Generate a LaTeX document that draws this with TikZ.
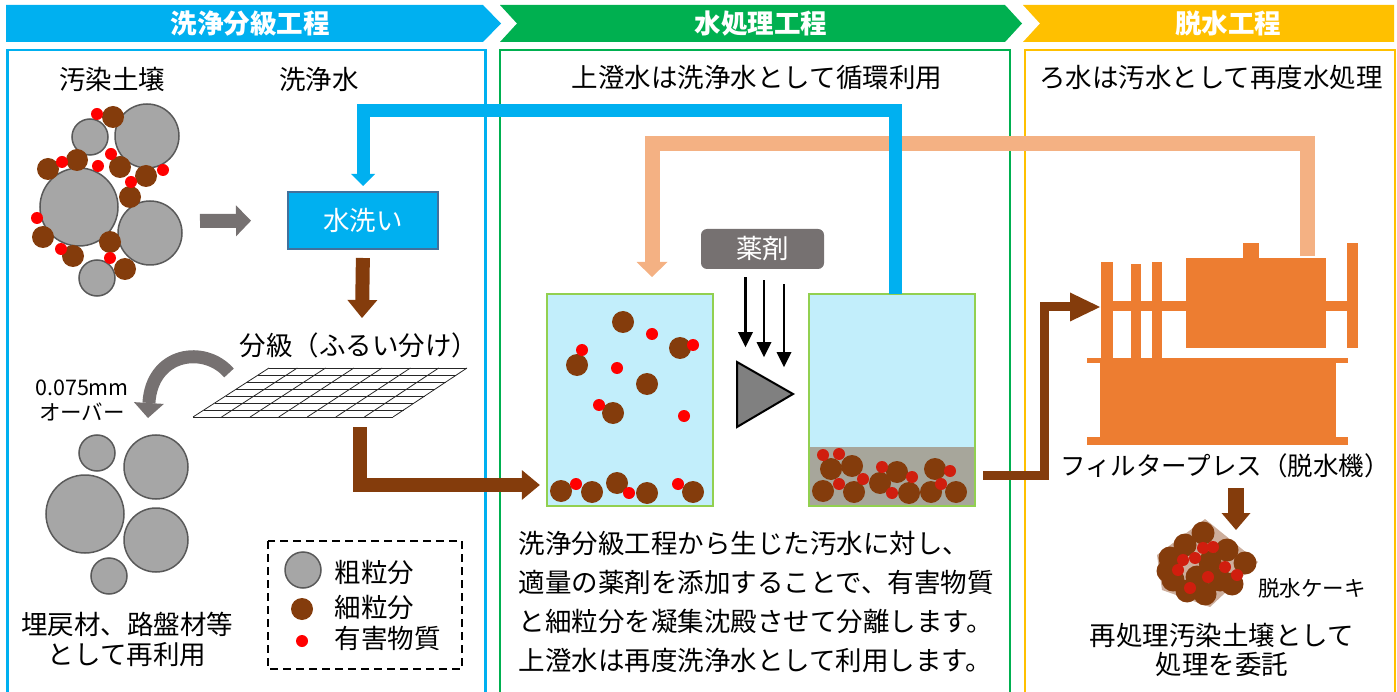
\documentclass[tikz,border=0pt]{standalone}
\usepackage{fontspec}
\setmainfont{Noto Sans CJK JP}
\usetikzlibrary{arrows.meta,calc,positioning}

\definecolor{stepblue}{HTML}{00B0F0}
\definecolor{stepgreen}{HTML}{00B050}
\definecolor{stepyellow}{HTML}{FFC000}
\definecolor{soilbrown}{HTML}{843C0C}
\definecolor{rockgray}{HTML}{A6A6A6}
\definecolor{rockedge}{HTML}{595959}
\definecolor{arrowgray}{HTML}{767171}
\definecolor{returnpink}{HTML}{F4B183}
\definecolor{pressorange}{HTML}{ED7D31}
\definecolor{water}{HTML}{C2EEFB}
\definecolor{tankgreen}{HTML}{92D050}
\definecolor{sludge}{HTML}{A7A69B}
\definecolor{washedge}{HTML}{41719C}
\definecolor{cakebg}{HTML}{CDAE9C}
\definecolor{darkred}{HTML}{D01E0E}

\begin{document}
\begin{tikzpicture}[x=1pt,y=-1pt,
          big/.style={font=\fontsize{26.5}{31}\selectfont},
          small/.style={font=\fontsize{21.5}{24}\selectfont},
          headtext/.style={font=\fontsize{26.5}{31}\selectfont\bfseries,text=white},
          panel/.style={line width=2.5pt},
          coarse/.style={fill=rockgray,draw=rockedge,line width=1.5pt},
          fine/.style={fill=soilbrown},
          toxic/.style={fill=red},
          tank/.style={fill=water,minimum width=166pt,minimum height=212pt,inner sep=0pt},
          tankedge/.style={draw=tankgreen,line width=2pt},
          press/.style={fill=pressorange},
          gridline/.style={draw=black!85,line width=0.8pt},
          bluepipe/.style={draw=stepblue,line width=13pt,-{Triangle[width=24pt,length=12pt,line width=0pt]}},
          pinkpipe/.style={draw=returnpink,line width=15pt,-{Triangle[width=31pt,length=15pt,line width=0pt]}},
          brownpipe/.style={draw=soilbrown,line width=14pt,-{Triangle[width=30pt,length=18pt,line width=0pt]}},
          grayarrow/.style={draw=arrowgray,line width=14pt,-{Triangle[width=31pt,length=15pt,line width=0pt]}},
          drop/.style={draw=black,line width=2.5pt,-{Triangle[width=15pt,length=15pt,line width=0pt]}}
        ]
        \useasboundingbox (0,0) rectangle (1397,692);

        %process panels
        \draw[panel,stepblue] (7.5,692) |- (485.5,50) -- (485.5,692);
        \draw[panel,stepgreen] (500,692) |- (1010,50) -- (1010,692);
        \draw[panel,stepyellow] (1025,692) |- (1395,50) -- (1395,692);

        %step headers
        \fill[stepblue] (6,5) -- (483,5) -- (501,23.5) -- (483,42) -- (6,42) -- cycle;
        \fill[stepgreen] (500,5) -- (1005,5) -- (1022,23.5) -- (1005,42) -- (500,42) -- (517,23.5) -- cycle;
        \fill[stepyellow] (1023,5) -- (1394,5) -- (1394,42) -- (1023,42) -- (1040,23.5) -- cycle;
        \node[headtext] (h1) at (250,23.5) {洗浄分級工程};
        \node[headtext] (h2) at (761,23.5) {水処理工程};
        \node[headtext] (h3) at (1228,23.5) {脱水工程};

        %titles
        \node[big] (soiltitle) at (112,79) {汚染土壌};
        \node[big] (watertitle) at (319,79) {洗浄水};
        \node[big] (reuse) at (757,77) {上澄水は洗浄水として循環利用};
        \node[big] (filtrate) at (1211,77) {ろ水は汚水として再度水処理};

        %contaminated soil
        \draw[coarse] (90,137) circle (18pt);
        \draw[coarse] (147,136) circle (32pt);
        \draw[coarse] (79,207) circle (39pt);
        \draw[coarse] (150,233) circle (32pt);
        \draw[coarse] (97,278) circle (18pt);
        \foreach \x/\y in {113/117,77/160,48/169,120/167,146/176,130/197,43/237,110/242,73/256,125/269}
          \fill[fine] (\x,\y) circle (11pt);
        \foreach \x/\y in {97/114,62/162,98/166,111/154,163/170,131/182,37/218,61/249,110/258}
          \fill[toxic] (\x,\y) circle (6pt);
        \coordinate (soil) at (200,221);

        %washing
        \node[fill=stepblue,draw=washedge,line width=2pt,minimum width=150pt,minimum height=57pt,big,text=white] (wash) at (363,220.5) {水洗い};
        \draw[grayarrow] (soil) -- (wash.west) [shorten >=36pt];

        %sieve
        \node[big] (sievelab) at (359,345) {分級（ふるい分け）};
        \coordinate (sbl) at (193,417);
        \coordinate (sbr) at (393,417);
        \coordinate (stl) at (269,368);
        \coordinate (str) at (467,368);
        \foreach \i in {0,...,7}
          \draw[gridline] ($(sbl)!\i/7!(stl)$) -- ($(sbr)!\i/7!(str)$);
        \foreach \i in {0,...,7}
          \draw[gridline] ($(sbl)!\i/7!(sbr)$) -- ($(stl)!\i/7!(str)$);
        \coordinate (sievein) at (362,318);
        \coordinate (sieveout) at (360,427);
        \coordinate (sieveover) at (229,373);
        \draw[brownpipe] (wash.south) -- (sievein) [shorten <=8pt];

        %oversize fraction
        \node[small] (mm) at (82,388) {0.075mm};
        \node[small] (over) at (82,412) {オーバー};
        \coordinate (pile) at (148,418);
        \draw[draw=arrowgray,line width=13pt,-{Triangle[width=30pt,length=15pt,line width=0pt]}]
          (sieveover) .. controls (205,345) and (152,352) .. (pile);
        \draw[coarse] (97,453) circle (18pt);
        \draw[coarse] (156,467) circle (32pt);
        \draw[coarse] (85,514) circle (39pt);
        \draw[coarse] (156,540) circle (32pt);
        \draw[coarse] (109,576) circle (18pt);
        \node[big,align=center] (recycle) at (127,639) {埋戻材、路盤材等\\[-1pt]として再利用};

        %legend
        \draw[line width=2pt,dash pattern=on 8pt off 5pt] (268,541) rectangle (462,669);
        \node[coarse,circle,minimum size=36pt,inner sep=0pt] (lc) at (303,570) {};
        \node[fine,circle,minimum size=22pt,inner sep=0pt] (lf) at (302,609) {};
        \node[toxic,circle,minimum size=12pt,inner sep=0pt] (lt) at (302,641) {};
        \node[big,anchor=west] at (331,572) {粗粒分};
        \node[big,anchor=west] at (331,607) {細粒分};
        \node[big,anchor=west] at (331,638) {有害物質};

        %return lines
        \coordinate (pressout) at (1307,256);
        \draw[pinkpipe] (pressout) |- (652,144) -- (652,277);

        %tanks
        \node[tank] (tankA) at (630,400) {};
        \node[tank] (tankB) at (892,400) {};
        \fill[sludge] (tankB.south west) rectangle (tankB.east |- 0,447);
        \foreach \x/\y in {623/322,680/348,577/365,647/384,613/413,561/491,592/492,617/483,647/493,693/492}
          \fill[fine] (\x,\y) circle (11pt);
        \foreach \x/\y in {652/334,693/345,582/350,617/368,599/405,684/416,576/484,629/493,678/484}
          \fill[toxic] (\x,\y) circle (6pt);
        \foreach \x/\y in {831/469,852/466,823/491,854/492,880/483,897/472,909/493,931/492,935/469,956/492}
          \fill[fine] (\x,\y) circle (11pt);
        \foreach \x/\y in {823/455,839/454,882/467,863/479,839/484,912/477,892/493,950/471,941/484}
          \fill[darkred] (\x,\y) circle (6pt);
        \draw[tankedge] (tankA.south west) rectangle (tankA.north east);
        \draw[tankedge] (tankB.south west) rectangle (tankB.north east);
        \draw[bluepipe] ([xshift=3pt]tankB.north) |- (wash.north |- 0,111) -- (wash.north) [shorten >=5pt];
        \draw[brownpipe] (sieveout) |- (tankA.west |- 0,485) [shorten >=7pt];

        %chemicals
        \node[fill=arrowgray,rounded corners=6pt,minimum width=123pt,minimum height=40pt,big,text=white] (yaku) at (762.5,249) {薬剤};
        \draw[drop] ([shift={(-17,8)}]yaku.south) -- ++(0,70);
        \draw[drop] ([shift={(1.5,11)}]yaku.south) -- ++(0,77);
        \draw[drop] ([shift={(21.5,15)}]yaku.south) -- ++(0,83);
        \draw[fill=gray,line width=2pt,line join=miter] (737,362) -- (737,427) -- (793,394) -- cycle;

        \node[big,align=left,anchor=west,font=\fontsize{26.5}{39}\selectfont] (note) at (515,601.5)
          {洗浄分級工程から生じた汚水に対し、\\適量の薬剤を添加することで、有害物質\\と細粒分を凝集沈殿させて分離します。\\上澄水は再度洗浄水として利用します。};

        %filter press
        \fill[press] (1101,262) rectangle (1113,358);
        \fill[press] (1131,264) rectangle (1141,358);
        \fill[press] (1152,262) rectangle (1162,358);
        \fill[press] (1101,301) rectangle (1347,311);
        \fill[press] (1186,258) rectangle (1326,348);
        \fill[press] (1243,243) rectangle (1259,258);
        \fill[press] (1347,243) rectangle (1358,348);
        \fill[press] (1087,358) rectangle (1348,363);
        \fill[press] (1100,363) rectangle (1336,437);
        \fill[press] (1087,437) rectangle (1348,445);
        \coordinate (pressin) at (1100,307);
        \coordinate (presscake) at (1236,530);
        \node[font=\fontsize{25.5}{31}\selectfont,inner xsep=0pt] (presslab) at (1225,466) {フィルタープレス（脱水機）};
        \draw[draw=soilbrown,line width=9pt,-{Triangle[width=29pt,length=30pt,line width=0pt]}]
          ([xshift=8pt]tankB.east |- 0,475) -| (1044,307) -- (pressin);
        \draw[draw=soilbrown,line width=16pt,-{Triangle[width=29pt,length=17pt,line width=0pt]}]
          (1236,488) -- (presscake);

        %dewatered cake
        \fill[cakebg] (1157,555) -- (1205,519) -- (1258,562) -- (1210,607) -- (1162,590) -- cycle;
        \foreach \x/\y in {1203/533,1185/545,1170/558,1227/550,1245/563,1210/562,1197/577,1173/580,1220/580,1205/594,1187/591,1232/584,1168/571}
          \fill[fine] (\x,\y) circle (11.5pt);
        \foreach \x/\y in {1203/548,1213/547,1183/560,1195/558,1178/570,1225/567,1237/575,1208/577,1190/588}
          \fill[darkred] (\x,\y) circle (6pt);
        \node[small] (cakelab) at (1312,588) {脱水ケーキ};
        \node[big,align=center] (consign) at (1222,650) {再処理汚染土壌として\\[-2pt]処理を委託};
\end{tikzpicture}
\end{document}
